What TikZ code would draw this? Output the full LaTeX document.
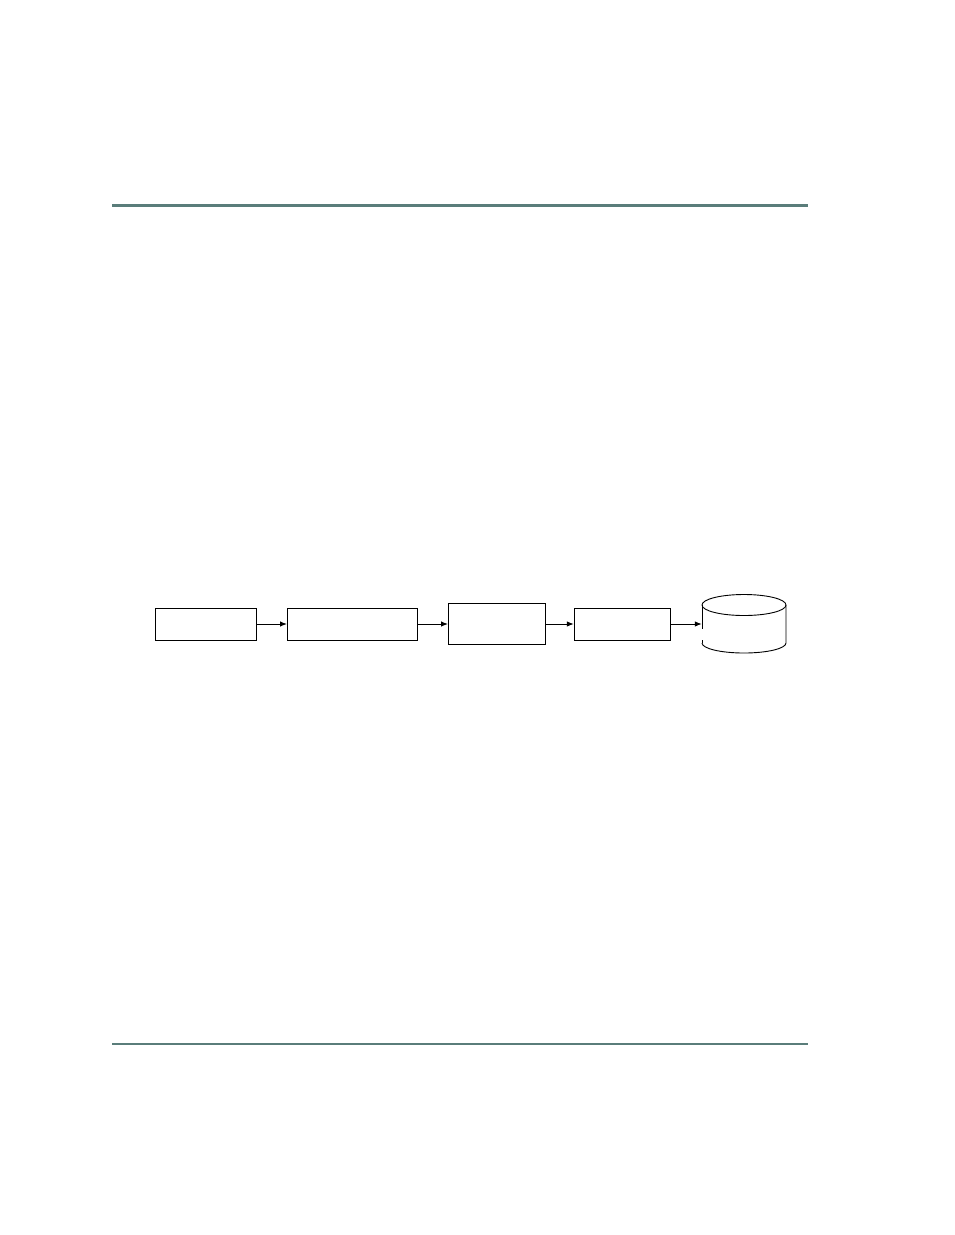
\documentclass[tikz,border=0pt]{standalone}
\usetikzlibrary{arrows.meta}
\definecolor{rulecol}{RGB}{90,125,122}
\begin{document}
\begin{tikzpicture}[x=1pt,y=-1pt,
  box/.style={draw=black,line width=1pt,inner sep=0pt,rectangle},
  conn/.style={draw=black,line width=1pt,-{Latex[length=7pt,width=5.5pt]}},
  cyl/.style={draw=black,line width=0.9pt}]
\useasboundingbox (0,0) rectangle (954,1235);
% rules
\coordinate (t1) at (112,205.5);
\coordinate (t2) at (808,205.5);
\draw[rulecol,line width=3pt] (t1) -- (t2);
\coordinate (u1) at (112,1044);
\coordinate (u2) at (808,1044);
\draw[rulecol,line width=2pt] (u1) -- (u2);
% boxes
\node[box,minimum width=101pt,minimum height=32pt] (b1) at (205.5,624) {};
\node[box,minimum width=130pt,minimum height=32pt] (b2) at (352.5,624) {};
\node[box,minimum width=97pt,minimum height=41pt] (b3) at (497,624) {};
\node[box,minimum width=96pt,minimum height=32pt] (b4) at (622.3,624) {};
% database cylinder
\node[inner sep=0pt,minimum width=84pt,minimum height=59pt] (db) at (744,624) {};
\draw[cyl] (744,605) ellipse [x radius=42, y radius=10.5];
\draw[cyl] (786,605) -- (786,643) arc[start angle=0,end angle=180,x radius=42,y radius=10];
\draw[cyl] (702,643) -- (702,640);
\draw[cyl] (702,605) -- (702,629);
% connectors
\draw[conn] (b1) -- (b2);
\draw[conn] (b2) -- (b3);
\draw[conn] (b3) -- (b4);
\draw[conn] (b4) -- (db);
\end{tikzpicture}
\end{document}
